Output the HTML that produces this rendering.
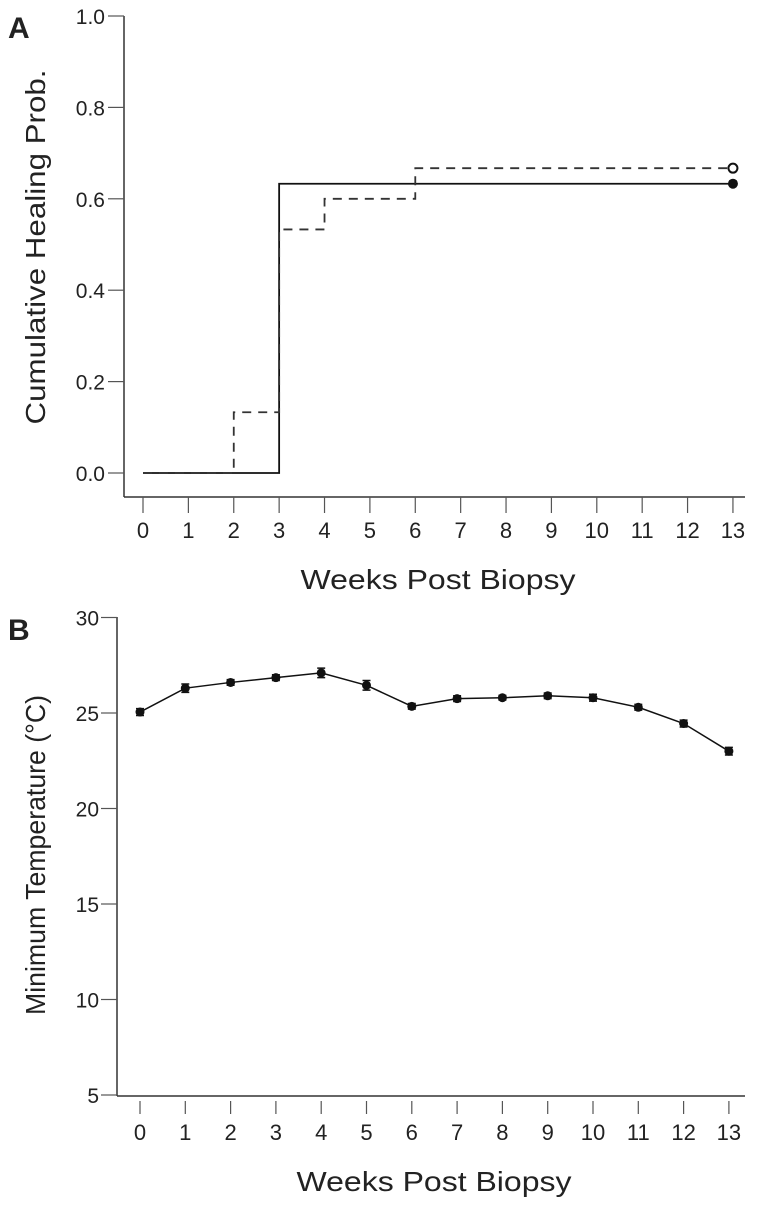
<!DOCTYPE html>
<html><head><meta charset="utf-8"><style>
body{margin:0;background:#fff}
svg text{font-family:"Liberation Sans",sans-serif;fill:#222}
</style></head><body>
<svg id="s" width="764" height="1208" xmlns="http://www.w3.org/2000/svg"></svg>
<script>
const weeks=[0,1,2,3,4,5,6,7,8,9,10,11,12,13];
const aTicks=[0,0.2,0.4,0.6,0.8,1.0];
const aTickLabels=["0.0","0.2","0.4","0.6","0.8","1.0"];
const solidX=[0,3,3,13];
const solidY=[0,0,0.633,0.633];
const dashX=[0,2,2,3,3,4,4,6,6,13];
const dashY=[0,0,0.133,0.133,0.533,0.533,0.6,0.6,0.667,0.667];
const bTicks=[5,10,15,20,25,30];
const tempMean=[25.05,26.3,26.6,26.85,27.1,26.45,25.35,25.75,25.8,25.9,25.8,25.3,24.45,23.0];
const tempErr=[0.18,0.22,0.15,0.15,0.25,0.25,0.15,0.15,0.12,0.15,0.18,0.15,0.18,0.2];

const svg=document.getElementById('s');const NS='http://www.w3.org/2000/svg';
function el(t,a,p){const e=document.createElementNS(NS,t);for(const k in a)e.setAttribute(k,a[k]);(p||svg).appendChild(e);return e;}
function txt(s,a,p){const e=el('text',a,p);e.textContent=s;return e;}

// Panel A
const gA=el('g',{});


const ax=v=>143+v*45.38, ay=v=>473-v*457;
const la=txt('A',{x:8,y:38,'font-size':30,'font-weight':'bold',fill:'#000'},gA);

el('line',{x1:124,y1:16,x2:124,y2:497,stroke:'#333','stroke-width':1.5},gA);
el('line',{x1:124,y1:497,x2:745,y2:497,stroke:'#333','stroke-width':1.5},gA);
aTicks.forEach((v,i)=>{el('line',{x1:108,x2:124,y1:ay(v),y2:ay(v),stroke:'#555','stroke-width':1.2},gA);
 const t=txt(aTickLabels[i],{x:105,y:ay(v)+8,'font-size':21,'text-anchor':'end'},gA);
 });
weeks.forEach(w=>{el('line',{x1:ax(w),x2:ax(w),y1:497,y2:513,stroke:'#555','stroke-width':1.2},gA);
 const t=txt(String(w),{x:ax(w),y:538,'font-size':22,'text-anchor':'middle'},gA);
 });
let t1=txt('Weeks Post Biopsy',{x:438,y:589,'font-size':28,'text-anchor':'middle',textLength:275,lengthAdjust:'spacingAndGlyphs'},gA);

let t2=txt('Cumulative Healing Prob.',{x:0,y:0,'font-size':28,'text-anchor':'middle',textLength:355,lengthAdjust:'spacingAndGlyphs',transform:'translate(45,247) rotate(-90)'},gA);

const ps=el('polyline',{points:solidX.map((x,i)=>ax(x)+','+ay(solidY[i])).join(' '),fill:'none',stroke:'#111','stroke-width':1.8},gA);

const pd=el('polyline',{points:dashX.map((x,i)=>ax(x)+','+ay(dashY[i])).join(' '),fill:'none',stroke:'#333','stroke-width':1.8,'stroke-dasharray':'9,7'},gA);

const c1=el('circle',{cx:ax(13),cy:ay(solidY[solidY.length-1]),r:5,fill:'#111'},gA);

const c2=el('circle',{cx:ax(13),cy:ay(dashY[dashY.length-1]),r:4.5,fill:'#fff',stroke:'#111','stroke-width':2},gA);


// Panel B
const gB=el('g',{});


const bx=v=>140+v*45.3, by=v=>1095-(v-5)*19.1;
const lb=txt('B',{x:8,y:640,'font-size':30,'font-weight':'bold',fill:'#000'},gB);

el('line',{x1:117,y1:617,x2:117,y2:1096,stroke:'#333','stroke-width':1.5},gB);
el('line',{x1:117,y1:1096,x2:745,y2:1096,stroke:'#333','stroke-width':1.5},gB);
bTicks.forEach(v=>{el('line',{x1:101,x2:117,y1:by(v),y2:by(v),stroke:'#555','stroke-width':1.2},gB);
 const t=txt(String(v),{x:99,y:by(v)+8,'font-size':21,'text-anchor':'end'},gB);
 });
weeks.forEach(w=>{el('line',{x1:bx(w),x2:bx(w),y1:1101,y2:1114,stroke:'#555','stroke-width':1.2},gB);
 const t=txt(String(w),{x:bx(w),y:1140,'font-size':22,'text-anchor':'middle'},gB);
 });
let t3=txt('Weeks Post Biopsy',{x:434,y:1191,'font-size':28,'text-anchor':'middle',textLength:275,lengthAdjust:'spacingAndGlyphs'},gB);

let t4=txt('Minimum Temperature (°C)',{x:0,y:0,'font-size':28,'text-anchor':'middle',textLength:320,lengthAdjust:'spacingAndGlyphs',transform:'translate(45,855) rotate(-90)'},gB);

const pl=el('polyline',{points:weeks.map((w,i)=>bx(w)+','+by(tempMean[i])).join(' '),fill:'none',stroke:'#111','stroke-width':1.5},gB);

weeks.forEach((w,i)=>{
 const x=bx(w),y1=by(tempMean[i]+tempErr[i]),y2=by(tempMean[i]-tempErr[i]);
 const e=el('path',{d:`M${x},${y1}V${y2}M${x-4},${y1}H${x+4}M${x-4},${y2}H${x+4}`,stroke:'#111','stroke-width':1.5},gB);
 
 const c=el('circle',{cx:x,cy:by(tempMean[i]),r:4.5,fill:'#111'},gB);
 
});
</script>
</body></html>
